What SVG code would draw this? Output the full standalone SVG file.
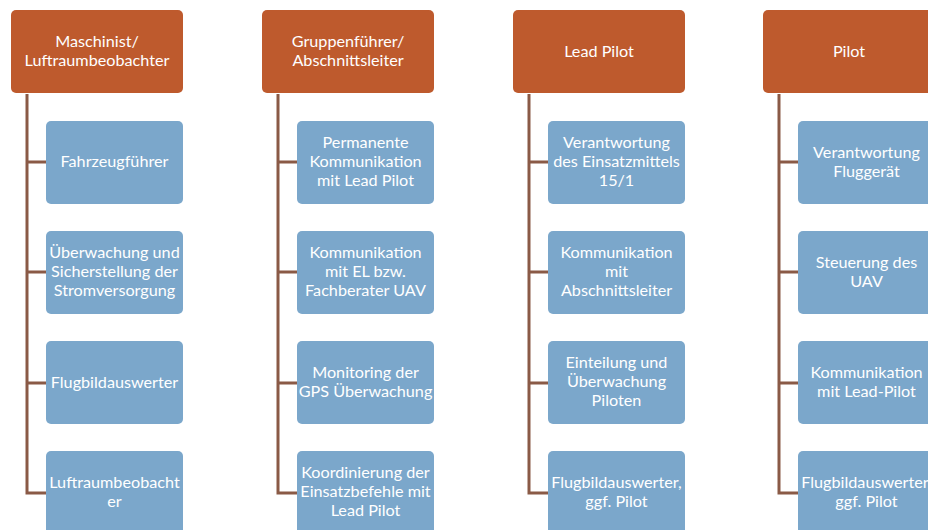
<svg xmlns="http://www.w3.org/2000/svg" width="928" height="530" viewBox="0 0 928 530">
<style>
.hdr{fill:#BE5A2D;}
.box{fill:#7BA7CB;}
.conn{stroke:#8A5A46;stroke-width:3;fill:none;}
text{font-family:Lato,"Open Sans","Liberation Sans",sans-serif;font-size:16.2px;fill:#FFFFFF;text-anchor:middle;}
</style>
<rect width="928" height="530" fill="#FFFFFF"/>
<g id="connectors">
<path class="conn" d="M27 94V494.5M27 162H46M27 272H46M27 383H46M27 493H46"/>
<path class="conn" d="M278 94V494.5M278 162H297M278 272H297M278 383H297M278 493H297"/>
<path class="conn" d="M529 94V494.5M529 162H548M529 272H548M529 383H548M529 493H548"/>
<path class="conn" d="M779 94V494.5M779 162H798M779 272H798M779 383H798M779 493H798"/>
</g>
<g id="h1"><rect class="hdr" x="11" y="10" width="172" height="83" rx="5"/><text x="97" y="47">Maschinist/</text><text x="97" y="66">Luftraumbeobachter</text></g>
<g id="h2"><rect class="hdr" x="262" y="10" width="172" height="83" rx="5"/><text x="348" y="47">Gruppenführer/</text><text x="348" y="66">Abschnittsleiter</text></g>
<g id="h3"><rect class="hdr" x="513" y="10" width="172" height="83" rx="5"/><text x="599" y="57">Lead Pilot</text></g>
<g id="h4"><rect class="hdr" x="763" y="10" width="172" height="83" rx="5"/><text x="849" y="57">Pilot</text></g>

<g id="c1a"><rect class="box" x="46" y="121" width="137" height="83" rx="5"/><text x="114.5" y="167">Fahrzeugführer</text></g>
<g id="c1b"><rect class="box" x="46" y="231" width="137" height="83" rx="5"/><text x="114.5" y="258">Überwachung und</text><text x="114.5" y="277">Sicherstellung der</text><text x="114.5" y="296">Stromversorgung</text></g>
<g id="c1c"><rect class="box" x="46" y="341" width="137" height="83" rx="5"/><text x="114.5" y="388">Flugbildauswerter</text></g>
<g id="c1d"><rect class="box" x="46" y="451" width="137" height="83" rx="5"/><text x="114.5" y="488">Luftraumbeobacht</text><text x="114.5" y="507">er</text></g>

<g id="c2a"><rect class="box" x="297" y="121" width="137" height="83" rx="5"/><text x="365.5" y="148">Permanente</text><text x="365.5" y="167">Kommunikation</text><text x="365.5" y="186">mit Lead Pilot</text></g>
<g id="c2b"><rect class="box" x="297" y="231" width="137" height="83" rx="5"/><text x="365.5" y="258">Kommunikation</text><text x="365.5" y="277">mit EL bzw.</text><text x="365.5" y="296">Fachberater UAV</text></g>
<g id="c2c"><rect class="box" x="297" y="341" width="137" height="83" rx="5"/><text x="365.5" y="378">Monitoring der</text><text x="365.5" y="397">GPS Überwachung</text></g>
<g id="c2d"><rect class="box" x="297" y="451" width="137" height="83" rx="5"/><text x="365.5" y="478">Koordinierung der</text><text x="365.5" y="497">Einsatzbefehle mit</text><text x="365.5" y="516">Lead Pilot</text></g>

<g id="c3a"><rect class="box" x="548" y="121" width="137" height="83" rx="5"/><text x="616.5" y="148">Verantwortung</text><text x="616.5" y="167">des Einsatzmittels</text><text x="616.5" y="186">15/1</text></g>
<g id="c3b"><rect class="box" x="548" y="231" width="137" height="83" rx="5"/><text x="616.5" y="258">Kommunikation</text><text x="616.5" y="277">mit</text><text x="616.5" y="296">Abschnittsleiter</text></g>
<g id="c3c"><rect class="box" x="548" y="341" width="137" height="83" rx="5"/><text x="616.5" y="368">Einteilung und</text><text x="616.5" y="387">Überwachung</text><text x="616.5" y="406">Piloten</text></g>
<g id="c3d"><rect class="box" x="548" y="451" width="137" height="83" rx="5"/><text x="616.5" y="488">Flugbildauswerter,</text><text x="616.5" y="507">ggf. Pilot</text></g>

<g id="c4a"><rect class="box" x="798" y="121" width="137" height="83" rx="5"/><text x="866.5" y="158">Verantwortung</text><text x="866.5" y="177">Fluggerät</text></g>
<g id="c4b"><rect class="box" x="798" y="231" width="137" height="83" rx="5"/><text x="866.5" y="268">Steuerung des</text><text x="866.5" y="287">UAV</text></g>
<g id="c4c"><rect class="box" x="798" y="341" width="137" height="83" rx="5"/><text x="866.5" y="378">Kommunikation</text><text x="866.5" y="397">mit Lead-Pilot</text></g>
<g id="c4d"><rect class="box" x="798" y="451" width="137" height="83" rx="5"/><text x="866.5" y="488">Flugbildauswerter,</text><text x="866.5" y="507">ggf. Pilot</text></g>
</svg>
